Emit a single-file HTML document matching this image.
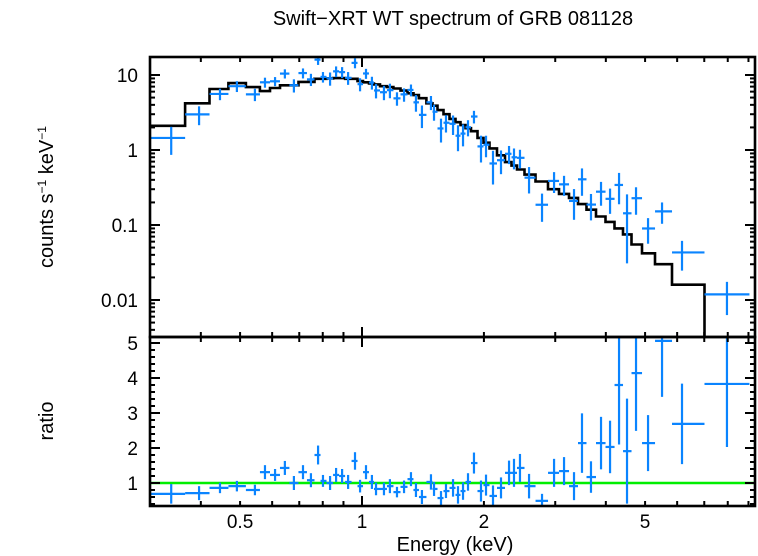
<!DOCTYPE html>
<html><head><meta charset="utf-8"><style>
html,body{margin:0;padding:0;background:#fff;}
svg{display:block;font-family:"Liberation Sans",sans-serif;}
</style></head><body>
<svg id="chart" width="758" height="556" viewBox="0 0 758 556" xmlns="http://www.w3.org/2000/svg">
<text x="453" y="25" font-size="20" text-anchor="middle">Swift−XRT WT spectrum of GRB 081128</text>
<text transform="translate(53,197) rotate(-90)" font-size="20" text-anchor="middle">counts s<tspan font-size="12" dy="-7">−1</tspan><tspan dy="7"> keV</tspan><tspan font-size="12" dy="-7">−1</tspan></text>
<text transform="translate(53,421) rotate(-90)" font-size="20" text-anchor="middle">ratio</text>
<text x="455" y="551" font-size="20" text-anchor="middle">Energy (keV)</text>
<g id="g-top"></g>
<g id="g-bot"></g>
<g id="g-axes"></g>
</svg>
<script>
const energies=[0.338,0.396,0.446,0.491,0.544,0.576,0.610,0.645,0.679,0.715,0.748,0.779,0.801,0.834,0.863,0.893,0.924,0.961,0.989,1.023,1.058,1.083,1.133,1.172,1.220,1.270,1.321,1.359,1.406,1.480,1.506,1.567,1.612,1.678,1.726,1.776,1.827,1.890,1.967,2.024,2.106,2.204,2.307,2.373,2.455,2.585,2.783,2.980,3.154,3.338,3.493,3.676,3.892,4.097,4.312,4.512,4.749,5.085,5.506,6.168,7.964];
const ratioValues=[0.69,0.71,0.86,0.91,0.8,1.31,1.23,1.43,1.0,1.31,1.08,1.8,1.06,1.0,1.23,1.2,1.03,1.63,0.91,1.31,1.03,0.83,0.83,0.91,0.74,0.89,1.11,0.8,0.6,1.03,0.83,0.57,0.77,0.86,0.66,0.77,1.03,1.57,0.77,0.94,0.63,0.86,1.29,1.29,1.43,0.91,0.49,1.29,1.34,0.91,2.14,1.17,2.14,2.03,3.8,1.91,4.14,2.14,5.06,2.69,3.83];
const ratioErrors=[0.28,0.2,0.15,0.15,0.15,0.2,0.17,0.2,0.2,0.2,0.2,0.27,0.17,0.2,0.2,0.2,0.2,0.25,0.18,0.2,0.2,0.18,0.18,0.2,0.15,0.18,0.2,0.2,0.2,0.22,0.2,0.2,0.2,0.25,0.25,0.25,0.25,0.3,0.3,0.3,0.3,0.3,0.35,0.4,0.4,0.35,0.2,0.4,0.4,0.4,0.85,0.45,0.75,0.75,1.7,1.5,1.65,0.8,1.6,1.15,1.8];
const modelValues=[2.1,4.2,6.5,7.8,6.9,6.1,6.7,7.3,7.3,8.1,8.1,8.9,8.9,9.0,9.1,9.1,8.9,8.9,8.3,8.0,7.7,7.5,7.1,6.9,6.6,6.2,5.7,5.4,4.9,4.2,3.9,3.4,3.0,2.6,2.35,2.15,1.95,1.78,1.45,1.25,1.05,0.85,0.69,0.62,0.55,0.47,0.38,0.30,0.26,0.23,0.19,0.16,0.13,0.11,0.09,0.075,0.055,0.042,0.03,0.016,0.0031];
const xTickLabels=["0.5","1","2","5"];
const xTickValues=[0.5,1,2,5];
const yTopTickLabels=["10","1","0.1","0.01"];
const yTopTickValues=[10,1,0.1,0.01];
const yBotTickLabels=["1","2","3","4","5"];
const yBotTickValues=[1,2,3,4,5];

const L=150,R=755,T=57,M=337,B=506;
const BLUE="#0a84ff";
const NS="http://www.w3.org/2000/svg";
function X(e){return 362+405*Math.log10(e);}
function YT(v){return 150-75*Math.log10(v);}
function YB(r){return 483-35*(r-1);}
function mk(parent,tag,attrs){const el=document.createElementNS(NS,tag);for(const k in attrs)el.setAttribute(k,attrs[k]);parent.appendChild(el);return el;}
const svg=document.getElementById('chart');
const defs=mk(svg,'defs',{});
const c1=mk(defs,'clipPath',{id:'clipT'});mk(c1,'rect',{x:L,y:T,width:R-L,height:M-T});
const c2=mk(defs,'clipPath',{id:'clipB'});mk(c2,'rect',{x:L,y:M,width:R-L,height:B-M});
const gT=document.getElementById('g-top');gT.setAttribute('clip-path','url(#clipT)');
const gB=document.getElementById('g-bot');gB.setAttribute('clip-path','url(#clipB)');
const gA=document.getElementById('g-axes');
const n=energies.length;
const lo=[],hi=[];
for(let i=0;i<n;i++){
  const l=i===0?0.3:Math.sqrt(energies[i-1]*energies[i]);
  const h=i===n-1?energies[i]*energies[i]/Math.sqrt(energies[i-1]*energies[i]):Math.sqrt(energies[i]*energies[i+1]);
  lo.push(l);hi.push(h);
}
let d="";
for(let i=0;i<n;i++){
  const y=YT(modelValues[i]);
  d+=(i===0?"M":"L")+X(lo[i]).toFixed(1)+","+y.toFixed(1)+" L"+X(hi[i]).toFixed(1)+","+y.toFixed(1)+" ";
}
const model=mk(gT,'path',{d:d,fill:'none',stroke:'#000','stroke-width':2.6});


const unity=mk(gB,'line',{x1:L,x2:R,y1:YB(1),y2:YB(1),stroke:'#00ee00','stroke-width':2.6});


for(let i=0;i<n;i++){
  const m=modelValues[i],r=ratioValues[i],re=ratioErrors[i];
  const c=r*m,cl=Math.max((r-re)*m,1e-5),ch=(r+re)*m;
  const g=mk(gT,'g',{stroke:BLUE,'stroke-width':2.2});
  
  
  mk(g,'line',{x1:X(lo[i]),x2:X(hi[i]),y1:YT(c),y2:YT(c)});
  mk(g,'line',{x1:X(energies[i]),x2:X(energies[i]),y1:YT(cl),y2:YT(ch)});
  const g2=mk(gB,'g',{stroke:BLUE,'stroke-width':2.2});
  
  
  mk(g2,'line',{x1:X(lo[i]),x2:X(hi[i]),y1:YB(r),y2:YB(r)});
  mk(g2,'line',{x1:X(energies[i]),x2:X(energies[i]),y1:YB(r-re),y2:YB(r+re)});
}
const f1=mk(gA,'rect',{x:L,y:T,width:R-L,height:M-T,fill:'none',stroke:'#000','stroke-width':2.6});


const f2=mk(gA,'rect',{x:L,y:M,width:R-L,height:B-M,fill:'none',stroke:'#000','stroke-width':2.6});


function tk(x1,y1,x2,y2){mk(gA,'line',{x1:x1,y1:y1,x2:x2,y2:y2,stroke:'#000','stroke-width':2});}
for(let dec=0.1;dec<=10;dec*=10){
  for(let k=1;k<10;k++){
    const e=dec*k;const x=X(e);if(x<L+1||x>R-1)continue;
    const len=(k===1)?10:5;
    tk(x,T,x,T+len);tk(x,M,x,M-len);tk(x,M,x,M+len);tk(x,B,x,B-len);
  }
}
for(let dec=0.001;dec<=10;dec*=10){
  for(let k=1;k<10;k++){
    const v=dec*k;const y=YT(v);if(y<T+1||y>M-1)continue;
    const len=(k===1)?10:5;
    tk(L,y,L+len,y);tk(R,y,R-len,y);
  }
}
for(let r=0.4;r<=5.01;r+=0.2){
  const y=YB(r);if(y<M+1||y>B-1)continue;
  const len=Math.abs(r-Math.round(r))<0.01?10:5;
  tk(L,y,L+len,y);tk(R,y,R-len,y);
}
for(let i=0;i<xTickValues.length;i++){
  const t=mk(gA,'text',{x:X(xTickValues[i]),y:528,'font-size':19,'text-anchor':'middle'});
  t.textContent=xTickLabels[i];
  
  
}
for(let i=0;i<yTopTickValues.length;i++){
  const t=mk(gA,'text',{x:138,y:YT(yTopTickValues[i])+7,'font-size':19,'text-anchor':'end'});
  t.textContent=yTopTickLabels[i];
  
  
}
for(let i=0;i<yBotTickValues.length;i++){
  const t=mk(gA,'text',{x:138,y:YB(yBotTickValues[i])+7,'font-size':19,'text-anchor':'end'});
  t.textContent=yBotTickLabels[i];
  
  
}
</script>
</body></html>
